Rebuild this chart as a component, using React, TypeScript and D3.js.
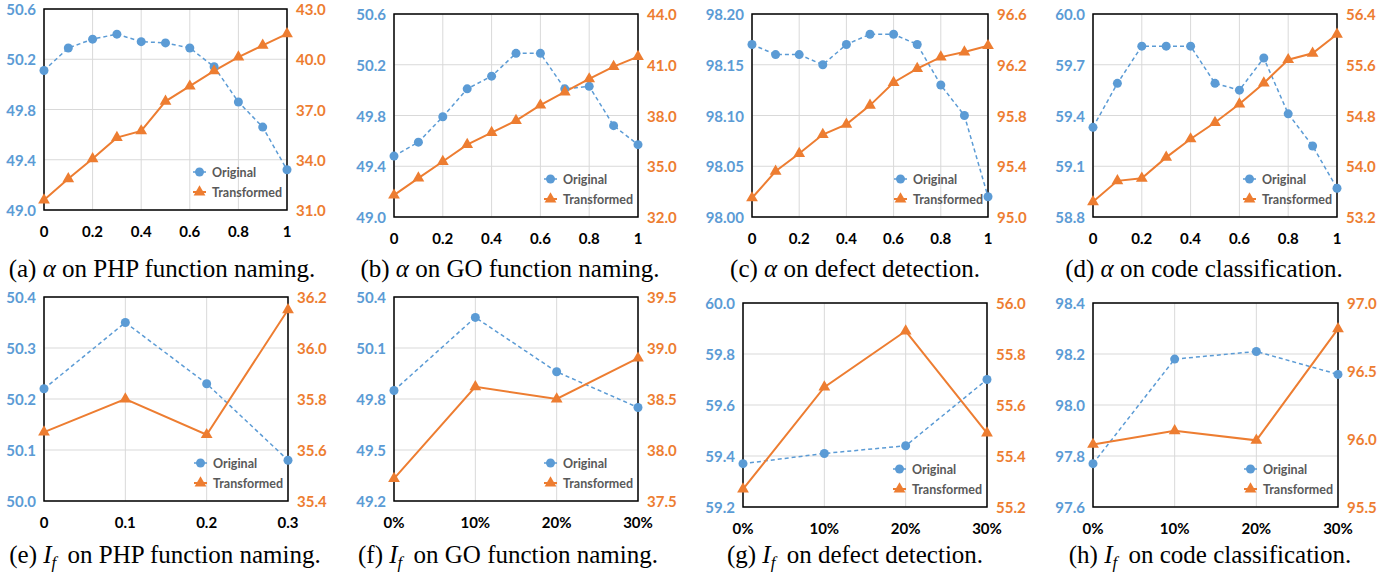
import React from 'react';
import * as d3 from 'd3';

// x categories
const alphaCats = ['0', '0.1', '0.2', '0.3', '0.4', '0.5', '0.6', '0.7', '0.8', '0.9', '1'];
const alphaLabels = ['0', '0.2', '0.4', '0.6', '0.8', '1'];
const ifCatsPHP = ['0', '0.1', '0.2', '0.3'];
const ifCatsPct = ['0%', '10%', '20%', '30%'];

// (a) alpha on PHP function naming
const phpAlphaOriginal = [50.11, 50.29, 50.36, 50.4, 50.34, 50.33, 50.29, 50.14, 49.86, 49.66, 49.32];
const phpAlphaTransformed = [31.59, 32.86, 34.06, 35.32, 35.72, 37.49, 38.39, 39.3, 40.13, 40.83, 41.52];
const phpAlphaLeftTicks = ['49.0', '49.4', '49.8', '50.2', '50.6'];
const phpAlphaRightTicks = ['31.0', '34.0', '37.0', '40.0', '43.0'];

// (b) alpha on GO function naming
const goAlphaOriginal = [49.48, 49.59, 49.79, 50.01, 50.11, 50.29, 50.29, 50.01, 50.03, 49.72, 49.57];
const goAlphaTransformed = [33.29, 34.3, 35.28, 36.28, 36.99, 37.7, 38.61, 39.39, 40.16, 40.89, 41.48];
const goAlphaLeftTicks = ['49.0', '49.4', '49.8', '50.2', '50.6'];
const goAlphaRightTicks = ['32.0', '35.0', '38.0', '41.0', '44.0'];

// (c) alpha on defect detection
const defectAlphaOriginal = [98.17, 98.16, 98.16, 98.15, 98.17, 98.18, 98.18, 98.17, 98.13, 98.1, 98.02];
const defectAlphaTransformed = [95.15, 95.36, 95.5, 95.65, 95.73, 95.88, 96.06, 96.17, 96.26, 96.3, 96.35];
const defectAlphaLeftTicks = ['98.00', '98.05', '98.10', '98.15', '98.20'];
const defectAlphaRightTicks = ['95.0', '95.4', '95.8', '96.2', '96.6'];

// (d) alpha on code classification
const classAlphaOriginal = [59.33, 59.59, 59.81, 59.81, 59.81, 59.59, 59.55, 59.74, 59.41, 59.22, 58.97];
const classAlphaTransformed = [53.44, 53.77, 53.81, 54.14, 54.43, 54.69, 54.98, 55.31, 55.68, 55.78, 56.08];
const classAlphaLeftTicks = ['58.8', '59.1', '59.4', '59.7', '60.0'];
const classAlphaRightTicks = ['53.2', '54.0', '54.8', '55.6', '56.4'];

// (e) I_f on PHP function naming
const phpIfOriginal = [50.22, 50.35, 50.23, 50.08];
const phpIfTransformed = [35.67, 35.8, 35.66, 36.15];
const phpIfLeftTicks = ['50.0', '50.1', '50.2', '50.3', '50.4'];
const phpIfRightTicks = ['35.4', '35.6', '35.8', '36.0', '36.2'];

// (f) I_f on GO function naming
const goIfOriginal = [49.85, 50.28, 49.96, 49.75];
const goIfTransformed = [37.72, 38.62, 38.5, 38.9];
const goIfLeftTicks = ['49.2', '49.5', '49.8', '50.1', '50.4'];
const goIfRightTicks = ['37.5', '38.0', '38.5', '39.0', '39.5'];

// (g) I_f on defect detection
const defectIfOriginal = [59.37, 59.41, 59.44, 59.7];
const defectIfTransformed = [55.27, 55.67, 55.89, 55.49];
const defectIfLeftTicks = ['59.2', '59.4', '59.6', '59.8', '60.0'];
const defectIfRightTicks = ['55.2', '55.4', '55.6', '55.8', '56.0'];

// (h) I_f on code classification
const classIfOriginal = [97.77, 98.18, 98.21, 98.12];
const classIfTransformed = [95.96, 96.06, 95.99, 96.81];
const classIfLeftTicks = ['97.6', '97.8', '98.0', '98.2', '98.4'];
const classIfRightTicks = ['95.5', '96.0', '96.5', '97.0'];

const seriesNames = ['Original', 'Transformed'];

const BLUE = '#5B9BD5';
const ORANGE = '#ED7D31';
const GRID = '#D9D9D9';
const TICK_FONT = 'Lato, "Open Sans", sans-serif';

type Panel = {
  letter: string;
  param: 'alpha' | 'if';
  task: string;
  cats: string[];
  labels: string[];
  orig: number[];
  trans: number[];
  left: string[];
  right: string[];
  box: [number, number, number, number]; // left, right, top, bottom
  cx: number;
  capY: number;
};

const panels: Panel[] = [
  { letter: 'a', param: 'alpha', task: 'PHP function naming', cats: alphaCats, labels: alphaLabels, orig: phpAlphaOriginal, trans: phpAlphaTransformed, left: phpAlphaLeftTicks, right: phpAlphaRightTicks, box: [44, 287, 9, 210], cx: 162, capY: 277 },
  { letter: 'b', param: 'alpha', task: 'GO function naming', cats: alphaCats, labels: alphaLabels, orig: goAlphaOriginal, trans: goAlphaTransformed, left: goAlphaLeftTicks, right: goAlphaRightTicks, box: [394, 638, 14, 217], cx: 510, capY: 277 },
  { letter: 'c', param: 'alpha', task: 'defect detection', cats: alphaCats, labels: alphaLabels, orig: defectAlphaOriginal, trans: defectAlphaTransformed, left: defectAlphaLeftTicks, right: defectAlphaRightTicks, box: [752, 988, 14, 217], cx: 855, capY: 277 },
  { letter: 'd', param: 'alpha', task: 'code classification', cats: alphaCats, labels: alphaLabels, orig: classAlphaOriginal, trans: classAlphaTransformed, left: classAlphaLeftTicks, right: classAlphaRightTicks, box: [1093, 1337, 14, 217], cx: 1204, capY: 277 },
  { letter: 'e', param: 'if', task: 'PHP function naming', cats: ifCatsPHP, labels: ifCatsPHP, orig: phpIfOriginal, trans: phpIfTransformed, left: phpIfLeftTicks, right: phpIfRightTicks, box: [44, 288, 297, 501], cx: 165, capY: 563 },
  { letter: 'f', param: 'if', task: 'GO function naming', cats: ifCatsPct, labels: ifCatsPct, orig: goIfOriginal, trans: goIfTransformed, left: goIfLeftTicks, right: goIfRightTicks, box: [394, 638, 297, 501], cx: 508, capY: 563 },
  { letter: 'g', param: 'if', task: 'defect detection', cats: ifCatsPct, labels: ifCatsPct, orig: defectIfOriginal, trans: defectIfTransformed, left: defectIfLeftTicks, right: defectIfRightTicks, box: [743, 987, 303, 507], cx: 855, capY: 563 },
  { letter: 'h', param: 'if', task: 'code classification', cats: ifCatsPct, labels: ifCatsPct, orig: classIfOriginal, trans: classIfTransformed, left: classIfLeftTicks, right: classIfRightTicks, box: [1093, 1338, 303, 507], cx: 1210, capY: 563 },
];

const triangle = d3.symbol(d3.symbolTriangle, 60)();

function Chart({ p }: { p: Panel }) {
  const [L, R, T, B] = p.box;
  const x = d3.scalePoint<string>().domain(p.cats).range([L, R]).padding(0);
  const yL = d3.scaleLinear().domain([+p.left[0], +p.left[p.left.length - 1]]).range([B, T]);
  const yR = d3.scaleLinear().domain([+p.right[0], +p.right[p.right.length - 1]]).range([B, T]);

  const lineL = d3.line<number>().x((_, i) => x(p.cats[i])!).y(d => yL(d));
  const lineR = d3.line<number>().x((_, i) => x(p.cats[i])!).y(d => yR(d));

  return (
    <g>
      {/* grid */}
      {p.left.map(t => (
        <line key={'h' + t} x1={L} x2={R} y1={yL(+t)} y2={yL(+t)} stroke={GRID} strokeWidth={1} />
      ))}
      {p.labels.map(c => (
        <line key={'v' + c} x1={x(c)} x2={x(c)} y1={T} y2={B} stroke={GRID} strokeWidth={1} />
      ))}
      <rect x={L} y={T} width={R - L} height={B - T} fill="none" stroke="#000" strokeWidth={1.5} />

      {/* y tick labels */}
      {p.left.map(t => (
        <text key={'l' + t} x={L - 8} y={yL(+t)} dy="0.4em" textAnchor="end" fill={BLUE}
          fontFamily={TICK_FONT} fontWeight="bold" fontSize={15}>{t}</text>
      ))}
      {p.right.map(t => (
        <text key={'r' + t} x={R + 9} y={yR(+t)} dy="0.4em" textAnchor="start" fill={ORANGE}
          fontFamily={TICK_FONT} fontWeight="bold" fontSize={15}>{t}</text>
      ))}
      {/* x tick labels */}
      {p.labels.map(c => (
        <text key={'x' + c} x={x(c)} y={B + 22} dy="0.36em" textAnchor="middle" fill="#000"
          fontFamily={TICK_FONT} fontWeight="bold" fontSize={15}>{c}</text>
      ))}

      {/* series */}
      <path d={lineL(p.orig) ?? ''} fill="none" stroke={BLUE} strokeWidth={1.5} strokeDasharray="4,3" />
      <path d={lineR(p.trans) ?? ''} fill="none" stroke={ORANGE} strokeWidth={2} />
      {p.orig.map((v, i) => (
        <circle key={'o' + i} cx={x(p.cats[i])} cy={yL(v)} r={4.5} fill={BLUE} />
      ))}
      {p.trans.map((v, i) => (
        <path key={'t' + i} d={triangle ?? ''} transform={`translate(${x(p.cats[i])},${yR(v)})`} fill={ORANGE} />
      ))}

      {/* legend */}
      {seriesNames.map((name, i) => {
        const ly = B - 38 + i * 20;
        const lx = R - 94;
        return (
          <g key={name}>
            <line x1={lx} x2={lx + 13} y1={ly} y2={ly} stroke={i === 0 ? BLUE : ORANGE}
              strokeWidth={i === 0 ? 1.5 : 2} strokeDasharray={i === 0 ? '3,2' : undefined} />
            {i === 0
              ? <circle cx={lx + 6.5} cy={ly} r={4.5} fill={BLUE} />
              : <path d={triangle ?? ''} transform={`translate(${lx + 6.5},${ly})`} fill={ORANGE} />}
            <text x={R - 75} y={ly} dy="0.36em" fill="#595959" fontFamily={TICK_FONT}
              fontWeight="bold" fontSize={12.5}>{name}</text>
          </g>
        );
      })}

      {/* caption */}
      <text x={p.cx} y={p.capY} textAnchor="middle" fontFamily='"Liberation Serif", "Times New Roman", serif'
        fontSize={25} fill="#000">
        ({p.letter}){' '}
        {p.param === 'alpha'
          ? <tspan fontStyle="italic">α</tspan>
          : <><tspan fontStyle="italic">I</tspan><tspan fontStyle="italic" fontSize={17} dy={5}>f</tspan></>}
        <tspan dy={p.param === 'alpha' ? 0 : -5} dx={p.param === 'alpha' ? 0 : 5}>{' on '}{p.task}.</tspan>
      </text>
    </g>
  );
}

export default function App() {
  return (
    <svg width={1393} height={575} style={{ position: 'absolute', left: 0, top: 0, display: 'block' }}>
      <rect width={1393} height={575} fill="#fff" />
      {panels.map(p => <Chart key={p.letter} p={p} />)}
    </svg>
  );
}
